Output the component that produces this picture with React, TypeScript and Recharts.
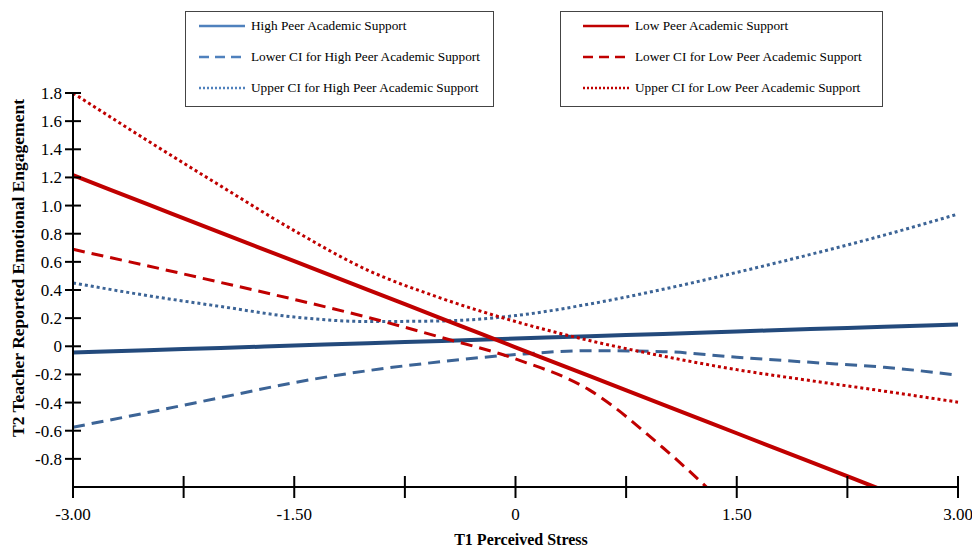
import React from "react";
import { LineChart, Line, XAxis, YAxis, Label } from "recharts";

// T1 perceived stress (x) grid
const stress = [-3, -2.5, -2, -1.5, -1, -0.5, 0, 0.5, 1, 1.5, 2, 2.5, 3];

// high peer academic support + CI
const highPeer = [-0.045, -0.028, -0.012, 0.005, 0.022, 0.038, 0.055, 0.072, 0.088, 0.105, 0.122, 0.138, 0.155];
const highLower = [-0.575, -0.472, -0.365, -0.258, -0.173, -0.109, -0.059, -0.031, -0.038, -0.078, -0.114, -0.149, -0.205];
const highUpper = [0.45, 0.361, 0.283, 0.208, 0.176, 0.18, 0.218, 0.3, 0.405, 0.525, 0.653, 0.79, 0.94];

// low peer academic support + CI (runs off the bottom of the plot)
const lowPeer = [1.216, 1.012, 0.808, 0.605, 0.401, 0.197, -0.007, -0.211, -0.414, -0.618, -0.822, -1.026, null];
const lowLower = [0.689, 0.573, 0.454, 0.333, 0.205, 0.062, -0.09, -0.31, -0.721, -1.206, null, null, null];
const lowUpper = [1.8, 1.465, 1.14, 0.822, 0.54, 0.34, 0.176, 0.041, -0.07, -0.166, -0.244, -0.319, -0.397];

const xTicks = [-3, -2.25, -1.5, -0.75, 0, 0.75, 1.5, 2.25, 3];
const xTickLabels = ["-3.00", "", "-1.50", "", "0", "", "1.50", "", "3.00"];
const yTicks = [-0.8, -0.6, -0.4, -0.2, 0, 0.2, 0.4, 0.6, 0.8, 1.0, 1.2, 1.4, 1.6, 1.8];
const yTickLabels = ["-0.8", "-0.6", "-0.4", "-0.2", "0", "0.2", "0.4", "0.6", "0.8", "1.0", "1.2", "1.4", "1.6", "1.8"];

const FONT = '"Liberation Serif", "Times New Roman", serif';
const RED = "#c00000";
const BLUE = "#234a7c";
const BLUE_CI = "#3c6496";
const BLUE_LEGEND = "#4f81bd";

const DASH = "12 7";
const DOT = "3 3";

const data = stress.map((x, i) => ({
  x,
  highPeer: highPeer[i],
  highLower: highLower[i],
  highUpper: highUpper[i],
  lowPeer: lowPeer[i],
  lowLower: lowLower[i],
  lowUpper: lowUpper[i],
}));

const series = [
  { key: "highPeer", name: "High Peer Academic Support", color: BLUE, legend: BLUE_LEGEND, width: 4, dash: undefined },
  { key: "highLower", name: "Lower CI for High Peer Academic Support", color: BLUE_CI, legend: BLUE_LEGEND, width: 3, dash: DASH },
  { key: "highUpper", name: "Upper CI for High Peer Academic Support", color: BLUE_CI, legend: BLUE_LEGEND, width: 3, dash: DOT },
  { key: "lowPeer", name: "Low Peer Academic Support", color: RED, legend: RED, width: 4, dash: undefined },
  { key: "lowLower", name: "Lower CI for Low Peer Academic Support", color: RED, legend: RED, width: 3, dash: DASH },
  { key: "lowUpper", name: "Upper CI for Low Peer Academic Support", color: RED, legend: RED, width: 3, dash: DOT },
];

const textStyle = { fontFamily: FONT, fontSize: 17, fill: "#000" };

const renderXTick = (props: any) => {
  const { x, y, payload } = props;
  const i = xTicks.indexOf(payload.value);
  return (
    <g>
      <line x1={x} x2={x} y1={y - 11} y2={y + 11} stroke="#000" strokeWidth={2} />
      <text x={x} y={y + 33} textAnchor="middle" style={textStyle}>
        {xTickLabels[i]}
      </text>
    </g>
  );
};

const renderYTick = (props: any) => {
  const { x, y, payload } = props;
  const i = yTicks.findIndex((t) => Math.abs(t - payload.value) < 1e-6);
  return (
    <g>
      <line x1={x - 8} x2={x + 8} y1={y} y2={y} stroke="#000" strokeWidth={2} />
      <text x={x - 11} y={y + 6} textAnchor="end" style={textStyle}>
        {yTickLabels[i]}
      </text>
    </g>
  );
};

function LegendBox(props: { items: typeof series; left: number; width: number; sampleX: number; textX: number }) {
  const { items, left, width, sampleX, textX } = props;
  return (
    <div
      style={{
        position: "absolute",
        left,
        top: 11,
        width,
        height: 96,
        border: "1px solid #444",
        background: "#fff",
        boxSizing: "border-box",
        fontFamily: FONT,
        fontSize: 13.3,
        color: "#000",
      }}
    >
      {items.map((s, i) => (
        <div key={s.key} style={{ position: "absolute", left: 0, top: 3 + i * 31, height: 22, width: "100%" }}>
          <svg width={textX} height={22} style={{ position: "absolute", left: 0, top: 0 }}>
            <line
              x1={sampleX}
              x2={sampleX + 46}
              y1={11}
              y2={11}
              stroke={s.legend}
              strokeWidth={2.5}
              strokeDasharray={s.dash === DASH ? "10 6" : s.dash === DOT ? "2 2" : undefined}
            />
          </svg>
          <span style={{ position: "absolute", left: textX, top: 3, whiteSpace: "nowrap" }}>{s.name}</span>
        </div>
      ))}
    </div>
  );
}

export default function App() {
  return (
    <div style={{ position: "absolute", left: 0, top: 0, width: 972, height: 548, background: "#fff", overflow: "hidden" }}>
      <LineChart width={972} height={548} data={data} margin={{ top: 93, right: 14, bottom: 21, left: 0 }}>
        <XAxis
          type="number"
          dataKey="x"
          domain={[-3, 3]}
          ticks={xTicks}
          interval={0}
          tickSize={0}
          tickMargin={0}
          tickLine={false}
          height={40}
          axisLine={{ stroke: "#000", strokeWidth: 2 }}
          tick={renderXTick}
        >
          <Label
            content={() => (
              <text x={521} y={545} textAnchor="middle" style={{ fontFamily: FONT, fontSize: 16, fontWeight: "bold", fill: "#000" }}>
                T1 Perceived Stress
              </text>
            )}
          />
        </XAxis>
        <YAxis
          type="number"
          domain={[-1, 1.8]}
          ticks={yTicks}
          interval={0}
          allowDataOverflow
          width={73}
          tickSize={0}
          tickMargin={0}
          tickLine={false}
          axisLine={{ stroke: "#000", strokeWidth: 2 }}
          tick={renderYTick}
        >
          <Label
            content={() => (
              <text
                x={24}
                y={268}
                transform="rotate(-90 24 268)"
                textAnchor="middle"
                style={{ fontFamily: FONT, fontSize: 17.5, fontWeight: "bold", fill: "#000" }}
              >
                T2 Teacher Reported Emotional Engagement
              </text>
            )}
          />
        </YAxis>
        {series.map((s) => (
          <Line
            key={s.key}
            type="monotone"
            dataKey={s.key}
            name={s.name}
            stroke={s.color}
            strokeWidth={s.width}
            strokeDasharray={s.dash}
            dot={false}
            activeDot={false}
            isAnimationActive={false}
          />
        ))}
      </LineChart>
      <LegendBox items={series.slice(0, 3)} left={185} width={309} sampleX={13} textX={65} />
      <LegendBox items={series.slice(3)} left={560} width={323} sampleX={22} textX={74} />
    </div>
  );
}
